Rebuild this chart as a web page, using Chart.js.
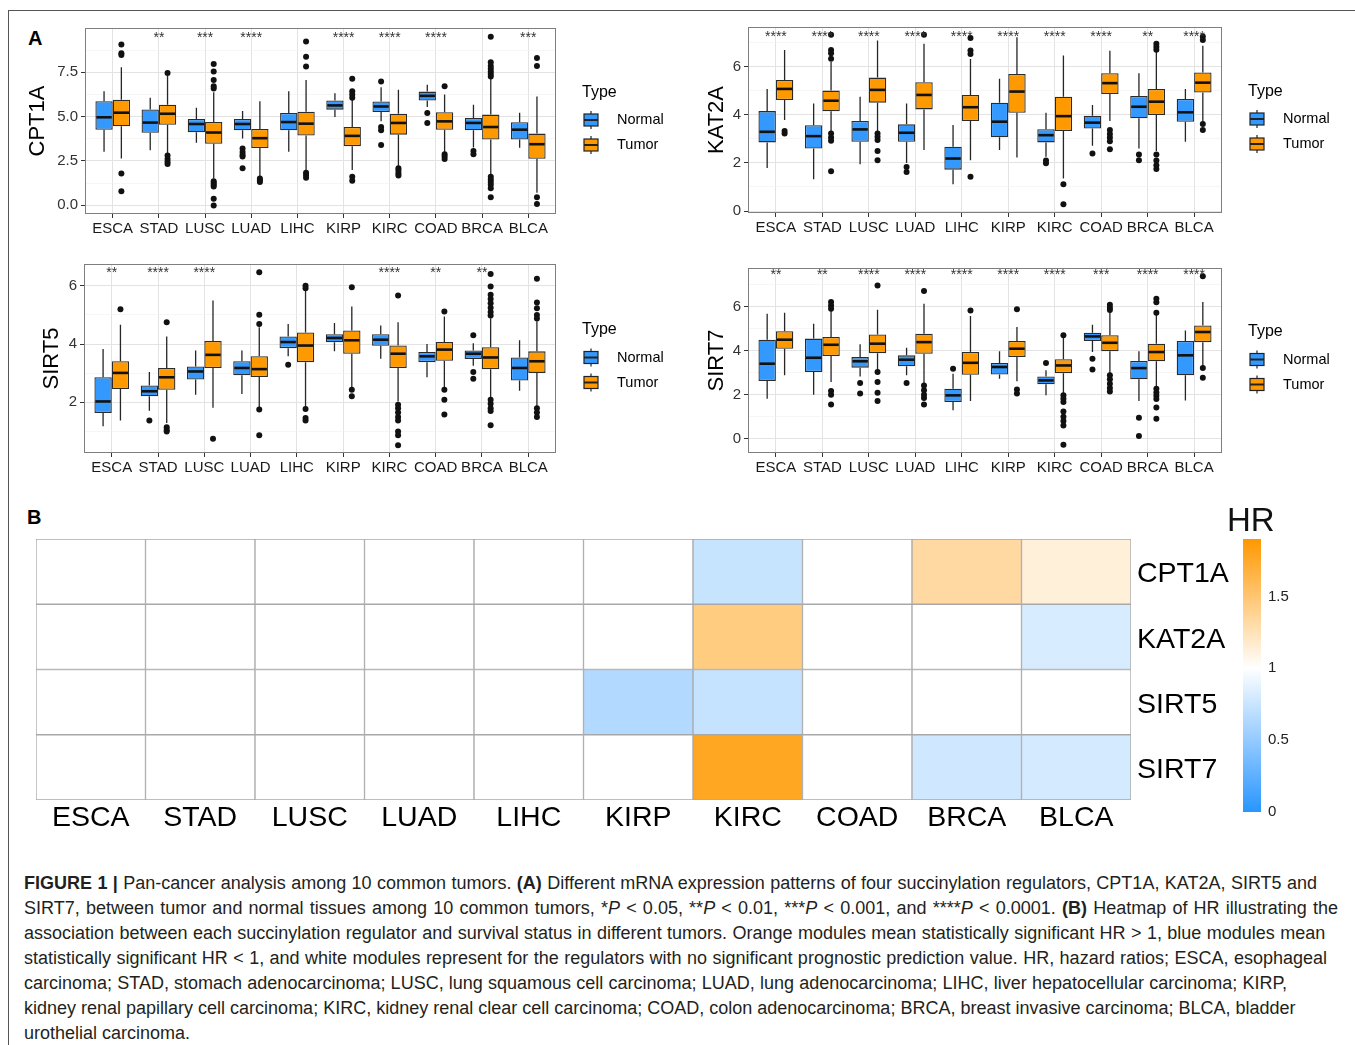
<!DOCTYPE html>
<html>
<head>
<meta charset="utf-8">
<title>Figure 1</title>
<script src="https://cdn.jsdelivr.net/npm/chart.js@4.4.1/dist/chart.umd.min.js"></script>
<style>
 html, body { margin:0; padding:0; background:#fff; }
 body { width:1355px; height:1045px; position:relative; overflow:hidden; font-family:"Liberation Sans", Arial, sans-serif; }
 .box { position:absolute; }
 canvas { display:block; }
 #frame { position:absolute; left:8px; top:10px; width:1400px; height:1100px; border:1px solid #555; box-sizing:border-box; }
 .plabel { position:absolute; font-weight:bold; font-size:20px; color:#000; line-height:23px; }
 #hrTitle { position:absolute; left:1227px; top:501px; font-size:33px; line-height:38px; color:#111; }
 #caption { position:absolute; left:24px; top:871px; font-size:18px; line-height:25px; color:#231f20; white-space:nowrap; }
 #caption b { font-weight:bold; }
</style>
</head>
<body>
<div id="frame"></div>
<div class="plabel" style="left:28px;top:27px;">A</div>
<div class="plabel" style="left:27px;top:506px;">B</div>
<div class="box" style="left:20px;top:14px;"><canvas id="c1" width="680" height="230"></canvas></div>
<div class="box" style="left:690px;top:13px;"><canvas id="c2" width="665" height="230"></canvas></div>
<div class="box" style="left:20px;top:250px;"><canvas id="c3" width="680" height="240"></canvas></div>
<div class="box" style="left:690px;top:250px;"><canvas id="c4" width="665" height="240"></canvas></div>
<div class="box" style="left:0px;top:500px;"><canvas id="heat" width="1240" height="350"></canvas></div>
<div class="box" style="left:1200px;top:500px;"><canvas id="cbar" width="155" height="330"></canvas></div>
<div id="hrTitle">HR</div>
<div id="caption">
<div style="word-spacing:0.4px"><b>FIGURE 1 |</b> Pan-cancer analysis among 10 common tumors. <b>(A)</b> Different mRNA expression patterns of four succinylation regulators, CPT1A, KAT2A, SIRT5 and</div>
<div style="word-spacing:1.2px">SIRT7, between tumor and normal tissues among 10 common tumors, *<i>P</i> &lt; 0.05, **<i>P</i> &lt; 0.01, ***<i>P</i> &lt; 0.001, and ****<i>P</i> &lt; 0.0001. <b>(B)</b> Heatmap of HR illustrating the</div>
<div style="word-spacing:0.4px">association between each succinylation regulator and survival status in different tumors. Orange modules mean statistically significant HR &gt; 1, blue modules mean</div>
<div style="word-spacing:0.4px">statistically significant HR &lt; 1, and white modules represent for the regulators with no significant prognostic prediction value. HR, hazard ratios; ESCA, esophageal</div>
<div style="word-spacing:0.2px">carcinoma; STAD, stomach adenocarcinoma; LUSC, lung squamous cell carcinoma; LUAD, lung adenocarcinoma; LIHC, liver hepatocellular carcinoma; KIRP,</div>
<div>kidney renal papillary cell carcinoma; KIRC, kidney renal clear cell carcinoma; COAD, colon adenocarcinoma; BRCA, breast invasive carcinoma; BLCA, bladder</div>
<div>urothelial carcinoma.</div>
</div>
<script>
// ---------------- DATA ----------------
const TUMORS = ['ESCA','STAD','LUSC','LUAD','LIHC','KIRP','KIRC','COAD','BRCA','BLCA'];
const TYPES = ['Normal','Tumor'];
const GENES = ['CPT1A','KAT2A','SIRT5','SIRT7'];

// box summaries per tumor: [lower whisker, Q1, median, Q3, upper whisker]
const CPT1A_NORMAL = [
 [3.01,4.26,4.96,5.87,6.43],[3.10,4.08,4.66,5.40,6.06],[3.52,4.11,4.58,4.86,5.50],[3.76,4.23,4.58,4.86,5.31],[3.01,4.23,4.69,5.20,6.43],
 [4.97,5.39,5.63,5.91,6.32],[4.73,5.26,5.57,5.85,6.66],[5.54,5.91,6.17,6.41,6.79],[3.25,4.23,4.64,4.92,5.67],[3.24,3.70,4.26,4.68,5.22]];
const CPT1A_TUMOR = [
 [2.64,4.45,5.22,5.95,7.78],[2.92,4.54,5.16,5.67,7.30],[1.51,3.46,4.10,4.69,6.38],[1.61,3.22,3.78,4.30,5.87],[1.89,3.93,4.60,5.27,7.07],
 [1.98,3.33,3.91,4.41,5.95],[2.17,3.98,4.64,5.16,6.51],[2.92,4.26,4.73,5.24,6.25],[1.70,3.70,4.41,5.11,7.13],[0.70,2.62,3.44,4.04,6.13]];
const CPT1A_NORMAL_OUT = [[],[],[],[3.20,3.00,2.85,2.75,2.08],[],[],[6.98,4.41,4.23,3.40],[5.20,4.64],[3.05,2.88],[]];
const CPT1A_TUMOR_OUT = [
 [9.07,8.58,8.47,1.78,0.79],[7.46,2.80,2.60,2.45,2.32],[7.97,7.54,7.07,6.71,6.58,1.35,1.25,1.15,1.05,0.36,-0.02],[1.50,1.40,1.30],
 [9.24,8.38,7.82,1.83,1.70,1.55],[7.13,6.43,6.25,6.06,1.60,1.37],[2.08,1.95,1.80,1.68],[6.71,2.88,2.75,2.60],
 [9.50,8.06,7.85,7.70,7.55,7.40,7.26,1.60,1.45,1.30,1.15,0.95,0.45],[8.30,7.85,0.45,0.07]];
const CPT1A_SIG = ['','**','***','****','','****','****','****','','***'];
const CPT1A_TICKS = [0, 2.5, 5, 7.5];
const CPT1A_TICK_LABELS = ['0.0','2.5','5.0','7.5'];

const KAT2A_NORMAL = [
 [1.79,2.85,3.29,4.15,5.07],[1.32,2.60,3.11,3.56,4.47],[1.94,2.88,3.39,3.74,4.75],[2.00,2.88,3.25,3.60,4.47],[1.11,1.72,2.18,2.67,3.57],
 [2.53,3.06,3.71,4.50,5.49],[2.25,2.85,3.15,3.40,4.08],[2.71,3.43,3.67,3.96,4.40],[2.60,3.85,4.33,4.78,5.72],[2.88,3.71,4.10,4.65,5.07]];
const KAT2A_TUMOR = [
 [3.78,4.61,5.07,5.44,6.69],[3.32,4.14,4.58,5.00,6.20],[3.29,4.50,5.03,5.54,7.08],[2.53,4.22,4.82,5.35,6.94],[2.11,3.74,4.31,4.82,6.31],
 [2.22,4.08,4.96,5.69,7.21],[1.35,3.32,3.94,4.75,6.46],[3.74,4.86,5.31,5.72,6.65],[2.49,3.99,4.54,5.07,6.65],[3.71,4.92,5.33,5.75,6.86]];
const KAT2A_NORMAL_OUT = [[],[],[],[1.83,1.62],[],[],[2.10,1.98],[2.39],[2.35,2.11],[]];
const KAT2A_TUMOR_OUT = [
 [3.32,3.22],[7.32,6.69,6.55,6.32,3.22,3.05,2.92,1.65],[3.22,3.08,2.95,2.49,2.11],[7.32],[7.18,6.66,6.52,1.42],
 [],[1.11,0.28],[3.36,3.20,3.05,2.90,2.57],[6.94,6.82,6.70,2.35,2.10,1.90,1.75],[7.25,7.10,3.61,3.36]];
const KAT2A_SIG = ['****','****','****','****','****','****','****','****','**','****'];
const KAT2A_TICKS = [0, 2, 4, 6];
const KAT2A_TICK_LABELS = ['0','2','4','6'];

const SIRT5_NORMAL = [
 [1.18,1.63,2.03,2.86,3.83],[1.71,2.21,2.38,2.58,3.04],[2.26,2.78,3.06,3.23,3.78],[2.29,2.93,3.18,3.41,3.78],[3.58,3.86,4.07,4.26,4.69],
 [3.75,4.06,4.21,4.34,4.72],[3.50,3.94,4.15,4.34,4.64],[2.86,3.38,3.58,3.73,4.00],[3.26,3.49,3.67,3.78,4.03],[2.40,2.75,3.18,3.54,4.13]];
const SIRT5_TUMOR = [
 [1.38,2.46,3.01,3.41,4.66],[1.29,2.43,2.86,3.18,4.26],[1.81,3.18,3.63,4.11,5.50],[1.81,2.87,3.14,3.58,4.58],[1.81,3.38,3.95,4.40,5.86],
 [2.49,3.67,4.13,4.47,5.29],[2.03,3.18,3.67,3.95,4.75],[2.49,3.43,3.81,4.07,4.95],[2.15,3.14,3.54,3.89,4.89],[1.86,3.01,3.41,3.75,4.78]];
const SIRT5_NORMAL_OUT = [[],[1.38],[],[],[3.29],[],[],[],[4.30,3.04,2.81],[]];
const SIRT5_TUMOR_OUT = [
 [5.20],[4.75,1.14,1.05,1.00],[0.75],[6.47,5.01,4.69,1.75,0.87],[6.00,5.92,1.77,1.46,1.38],
 [5.95,2.43,2.21],[5.67,1.92,1.80,1.65,1.50,1.38,1.00,0.87,0.53],[5.12,2.43,2.09,1.58],
 [6.41,5.98,5.69,5.55,5.40,5.25,5.10,4.98,2.09,1.95,1.80,1.70,1.21],[6.24,5.43,5.23,5.00,4.88,1.80,1.65,1.50]];
const SIRT5_SIG = ['**','****','****','','','','****','**','**',''];
const SIRT5_TICKS = [2, 4, 6];
const SIRT5_TICK_LABELS = ['2','4','6'];

const SIRT7_NORMAL = [
 [1.82,2.62,3.41,4.50,5.68],[2.00,3.03,3.68,4.55,5.23],[2.83,3.23,3.52,3.71,4.29],[2.88,3.29,3.59,3.79,4.14],[1.29,1.67,1.97,2.27,2.95],
 [2.73,2.92,3.26,3.44,3.98],[1.97,2.47,2.65,2.83,3.11],[3.94,4.44,4.65,4.82,5.18],[1.71,2.70,3.21,3.53,3.98],[1.74,2.88,3.79,4.44,4.92]];
const SIRT7_TUMOR = [
 [2.88,4.09,4.50,4.89,5.73],[2.58,3.76,4.27,4.62,5.86],[3.11,3.89,4.32,4.74,5.86],[2.50,3.86,4.39,4.77,6.14],[1.71,2.91,3.45,3.94,5.58],
 [2.61,3.71,4.09,4.44,5.08],[2.05,2.98,3.33,3.61,4.62],[2.95,3.98,4.36,4.70,5.76],[2.35,3.52,3.94,4.32,5.68],[3.30,4.39,4.85,5.15,6.21]];
const SIRT7_NORMAL_OUT = [[],[],[2.53,2.05],[2.53],[3.18],[],[3.44],[3.64,3.15],[0.95,0.12],[]];
const SIRT7_TUMOR_OUT = [
 [],[6.21,6.06,5.91,2.17,2.00,1.56],[6.97,3.03,2.58,2.09,1.71],[6.71,2.42,2.20,2.00,1.85,1.55],[5.83],
 [5.88,2.24,2.05],[4.70,1.97,1.82,1.67,1.24,1.00,0.80,0.60,-0.27],[6.09,5.95,5.85,2.88,2.70,2.50,2.30,2.15],
 [6.36,6.20,5.73,2.27,2.10,1.95,1.80,1.42,0.91],[7.39,3.21,2.77]];
const SIRT7_SIG = ['**','**','****','****','****','****','****','***','****','****'];
const SIRT7_TICKS = [0, 2, 4, 6];
const SIRT7_TICK_LABELS = ['0','2','4','6'];

// Hazard ratios (null = not significant, drawn white)
const HR_CPT1A = [null,null,null,null,null,null,0.74,null,1.33,1.13];
const HR_KAT2A = [null,null,null,null,null,null,1.45,null,null,0.82];
const HR_SIRT5 = [null,null,null,null,null,0.64,0.73,null,null,null];
const HR_SIRT7 = [null,null,null,null,null,null,1.78,null,0.78,0.80];
const HR_TICKS = [0, 0.5, 1, 1.5];
const HR_TICK_LABELS = ['0','0.5','1','1.5'];
const HR_MAX = 1.9;

// ---------------- STYLE ----------------
const FONT = '"Liberation Sans", Arial, Helvetica, sans-serif';
Chart.defaults.font.family = FONT;
const COLOR_NORMAL = '#3399ff';
const COLOR_TUMOR = '#ff9900';
const BLUE = [40,150,255], ORANGE = [255,152,0];

function boxPlugin(o) {
  return {
    id: 'boxExtras',
    beforeDatasetsDraw(chart) {
      const ctx = chart.ctx, y = chart.scales.y;
      ctx.save();
      ctx.strokeStyle = '#262626'; ctx.lineWidth = 1.3;
      [o.normal, o.tumor].forEach((series, d) => {
        chart.getDatasetMeta(d).data.forEach((bar, i) => {
          const s = series[i], x = bar.x;
          ctx.beginPath();
          ctx.moveTo(x, y.getPixelForValue(s[0])); ctx.lineTo(x, y.getPixelForValue(s[1]));
          ctx.moveTo(x, y.getPixelForValue(s[3])); ctx.lineTo(x, y.getPixelForValue(s[4]));
          ctx.stroke();
        });
      });
      ctx.restore();
    },
    afterDatasetsDraw(chart) {
      const ctx = chart.ctx, y = chart.scales.y, xs = chart.scales.x;
      ctx.save();
      [o.normal, o.tumor].forEach((series, d) => {
        const outs = d === 0 ? o.normalOut : o.tumorOut;
        chart.getDatasetMeta(d).data.forEach((bar, i) => {
          const p = bar.getProps(['x','width'], true);
          const ym = y.getPixelForValue(series[i][2]);
          ctx.strokeStyle = '#111'; ctx.lineWidth = 2.6;
          ctx.beginPath(); ctx.moveTo(p.x - p.width/2 + 1, ym); ctx.lineTo(p.x + p.width/2 - 1, ym); ctx.stroke();
          ctx.fillStyle = '#111';
          outs[i].forEach(v => {
            ctx.beginPath(); ctx.arc(p.x, y.getPixelForValue(v), 3, 0, Math.PI*2); ctx.fill();
          });
        });
      });
      ctx.fillStyle = '#333'; ctx.font = '14px ' + FONT; ctx.textAlign = 'center'; ctx.textBaseline = 'middle';
      o.sig.forEach((s, i) => { if (s) ctx.fillText(s, xs.getPixelForValue(i), y.getPixelForValue(o.sigY) + 3); });
      ctx.restore();
    },
    afterDraw(chart) {
      const ctx = chart.ctx, a = chart.chartArea;
      ctx.save();
      ctx.strokeStyle = '#7f7f7f'; ctx.lineWidth = 1;
      ctx.strokeRect(Math.round(a.left) + 0.5, Math.round(a.top) + 0.5, Math.round(a.right - a.left) - 1, Math.round(a.bottom - a.top) - 1);
      // legend
      const lx = a.right + 26, mid = (a.top + a.bottom) / 2;
      ctx.fillStyle = '#000'; ctx.textBaseline = 'middle'; ctx.textAlign = 'left';
      ctx.font = '16px ' + FONT;
      ctx.fillText('Type', lx, mid - 28.5);
      [[TYPES[0], COLOR_NORMAL, mid - 1], [TYPES[1], COLOR_TUMOR, mid + 24]].forEach(([lab, col, yy]) => {
        const bx = lx + 2, bw = 14;
        ctx.strokeStyle = '#222'; ctx.lineWidth = 1.2;
        ctx.beginPath(); ctx.moveTo(bx + bw/2, yy - 9); ctx.lineTo(bx + bw/2, yy + 9); ctx.stroke();
        ctx.fillStyle = col; ctx.fillRect(bx, yy - 6, bw, 12);
        ctx.strokeRect(bx, yy - 6, bw, 12);
        ctx.lineWidth = 2; ctx.beginPath(); ctx.moveTo(bx, yy); ctx.lineTo(bx + bw, yy); ctx.stroke();
        ctx.fillStyle = '#000'; ctx.font = '14.5px ' + FONT;
        ctx.fillText(lab, lx + 35, yy);
      });
      ctx.restore();
    }
  };
}

function makeBoxChart(id, o) {
  const isMajor = v => o.majors.includes(v);
  const ds = (label, series, col) => ({
    label, data: series.map(s => [s[1], s[3]]), backgroundColor: col,
    borderColor: '#2b2b2b', borderWidth: 1.3, borderSkipped: false,
    categoryPercentage: 0.75, barPercentage: 1
  });
  return new Chart(document.getElementById(id), {
    type: 'bar',
    data: { labels: TUMORS, datasets: [ds(TYPES[0], o.normal, COLOR_NORMAL), ds(TYPES[1], o.tumor, COLOR_TUMOR)] },
    options: {
      responsive: false, animation: false, events: [],
      layout: { padding: o.pad },
      plugins: { legend: { display: false }, tooltip: { enabled: false } },
      scales: {
        x: {
          type: 'category', offset: false,
          afterBuildTicks: s => { s._startValue = -0.6; s._valueRange = TUMORS.length - 1 + 1.2; },
          afterFit: s => { s.height = o.xh; },
          grid: { offset: false, color: '#e3e3e3', lineWidth: 1, tickColor: '#333', tickLength: 4, drawTicks: true },
          border: { display: false },
          ticks: { font: { size: 15 }, color: '#1a1a1a', padding: 2, autoSkip: false, maxRotation: 0 }
        },
        y: {
          min: o.yMin, max: o.yMax,
          afterBuildTicks: s => { s.ticks = o.majors.concat(o.minors).sort((a, b) => a - b).map(v => ({ value: v })); },
          afterFit: s => { s.width = o.yw; },
          ticks: { autoSkip: false, font: { size: 15 }, color: '#333', padding: 3,
            callback: v => { const k = o.majors.indexOf(v); return k >= 0 ? o.majorLabels[k] : ''; } },
          grid: {
            color: c => (c.tick && isMajor(c.tick.value)) ? '#e3e3e3' : '#f0f0f0',
            lineWidth: c => (c.tick && isMajor(c.tick.value)) ? 1 : 0.6,
            tickColor: c => (c.tick && isMajor(c.tick.value)) ? '#333' : 'rgba(0,0,0,0)',
            tickLength: 4, drawTicks: true
          },
          border: { display: false },
          title: { display: true, text: o.gene, font: { size: 22 }, color: '#000', padding: { top: o.tp, bottom: 0 } }
        }
      }
    },
    plugins: [boxPlugin(o)]
  });
}

const mid = t => t.slice(0, -1).map((v, i) => (v + t[i + 1]) / 2);

makeBoxChart('c1', { gene: GENES[0], normal: CPT1A_NORMAL, tumor: CPT1A_TUMOR, normalOut: CPT1A_NORMAL_OUT, tumorOut: CPT1A_TUMOR_OUT,
  sig: CPT1A_SIG, sigY: 9.61, yMin: -0.5, yMax: 10.0, majors: CPT1A_TICKS, majorLabels: CPT1A_TICK_LABELS, minors: mid(CPT1A_TICKS).concat([8.75]),
  pad: { left: 0, top: 14, right: 144, bottom: 0 }, yw: 65, xh: 30, tp: 4.8 });
makeBoxChart('c2', { gene: GENES[1], normal: KAT2A_NORMAL, tumor: KAT2A_TUMOR, normalOut: KAT2A_NORMAL_OUT, tumorOut: KAT2A_TUMOR_OUT,
  sig: KAT2A_SIG, sigY: 7.36, yMin: -0.08, yMax: 7.64, majors: KAT2A_TICKS, majorLabels: KAT2A_TICK_LABELS, minors: mid(KAT2A_TICKS).concat([7]),
  pad: { left: 0, top: 14, right: 133, bottom: 0 }, yw: 58, xh: 30, tp: 13.8 });
makeBoxChart('c3', { gene: GENES[2], normal: SIRT5_NORMAL, tumor: SIRT5_TUMOR, normalOut: SIRT5_NORMAL_OUT, tumorOut: SIRT5_TUMOR_OUT,
  sig: SIRT5_SIG, sigY: 6.55, yMin: 0.26, yMax: 6.75, majors: SIRT5_TICKS, majorLabels: SIRT5_TICK_LABELS, minors: [1].concat(mid(SIRT5_TICKS)),
  pad: { left: 0, top: 14, right: 144, bottom: 0 }, yw: 64, xh: 37, tp: 18.8 });
makeBoxChart('c4', { gene: GENES[3], normal: SIRT7_NORMAL, tumor: SIRT7_TUMOR, normalOut: SIRT7_NORMAL_OUT, tumorOut: SIRT7_TUMOR_OUT,
  sig: SIRT7_SIG, sigY: 7.55, yMin: -0.65, yMax: 7.76, majors: SIRT7_TICKS, majorLabels: SIRT7_TICK_LABELS, minors: mid(SIRT7_TICKS).concat([7]),
  pad: { left: 0, top: 18, right: 133, bottom: 0 }, yw: 58, xh: 37, tp: 13.8 });

// ---------------- HEATMAP ----------------
function hrColor(hr) {
  if (hr == null) return 'rgb(255,255,255)';
  let t, c;
  if (hr < 1) { t = 1 - hr; c = BLUE; } else { t = (hr - 1) / (HR_MAX - 1); c = ORANGE; }
  const m = c.map(v => Math.round(255 + t * (v - 255)));
  return 'rgb(' + m.join(',') + ')';
}
const HR_ROWS = [HR_CPT1A, HR_KAT2A, HR_SIRT5, HR_SIRT7];
const heatSets = GENES.map((g, r) => ({
  label: g, data: TUMORS.map(() => 1), backgroundColor: HR_ROWS[r].map(hrColor),
  borderColor: '#a8a8a8', borderWidth: 1, borderSkipped: false, barPercentage: 1, categoryPercentage: 1
})).reverse();

new Chart(document.getElementById('heat'), {
  type: 'bar',
  data: { labels: TUMORS, datasets: heatSets },
  options: {
    responsive: false, animation: false, events: [],
    layout: { padding: { left: 36, top: 39, right: 0, bottom: 0 } },
    plugins: { legend: { display: false }, tooltip: { enabled: false } },
    scales: {
      x: { stacked: true, offset: true, afterFit: s => { s.height = 50; },
        grid: { display: false, drawTicks: false }, border: { display: false },
        ticks: { font: { size: 28.5 }, color: '#000', padding: 1, autoSkip: false, maxRotation: 0 } },
      y: { stacked: true, min: 0, max: GENES.length, position: 'right',
        afterBuildTicks: s => { s.ticks = GENES.map((g, i) => ({ value: i + 0.5 })); },
        afterFit: s => { s.width = 109; },
        grid: { display: false, drawTicks: false }, border: { display: false },
        ticks: { font: { size: 28.5 }, color: '#000', padding: 6, autoSkip: false, labelOffset: 3,
          callback: v => GENES[GENES.length - 1 - Math.floor(v)] } }
    }
  }
});

// ---------------- COLOR BAR ----------------
new Chart(document.getElementById('cbar'), {
  type: 'bar',
  data: { labels: ['HR'], datasets: [{ data: [[0, HR_MAX]], borderWidth: 0, barPercentage: 1, categoryPercentage: 1,
    backgroundColor: ctx => {
      const ch = ctx.chart, ys = ch.scales.y;
      if (!ys || !ch.chartArea) return '#fff';
      const g = ch.ctx.createLinearGradient(0, ys.getPixelForValue(0), 0, ys.getPixelForValue(HR_MAX));
      g.addColorStop(0, 'rgb(' + BLUE.join(',') + ')');
      g.addColorStop(1 / HR_MAX, '#ffffff');
      g.addColorStop(1, 'rgb(' + ORANGE.join(',') + ')');
      return g;
    } }] },
  options: {
    responsive: false, animation: false, events: [],
    layout: { padding: { left: 43, top: 39, right: 0, bottom: 18 } },
    plugins: { legend: { display: false }, tooltip: { enabled: false } },
    scales: {
      x: { display: false },
      y: { position: 'right', min: 0, max: HR_MAX,
        afterBuildTicks: s => { s.ticks = HR_TICKS.map(v => ({ value: v })); },
        afterFit: s => { s.width = 94; },
        grid: { display: false, drawTicks: false }, border: { display: false },
        ticks: { font: { size: 15 }, color: '#222', padding: 7, autoSkip: false,
          callback: v => HR_TICK_LABELS[HR_TICKS.indexOf(v)] } }
    }
  }
});
</script>
</body>
</html>
